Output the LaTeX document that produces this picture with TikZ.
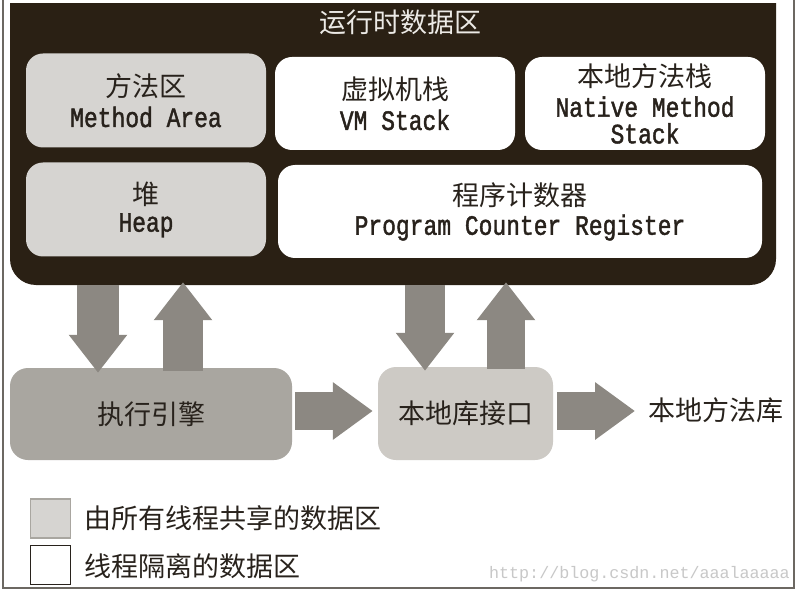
\documentclass[tikz,border=0pt]{standalone}
\usepackage{fontspec}
\setmainfont{Liberation Sans}
\newfontfamily\cjkf{Noto Sans CJK SC}
\newfontfamily\enf[FakeStretch=0.82,FakeBold=1.5]{Liberation Mono}
\newfontfamily\wmf{Liberation Mono}
\usetikzlibrary{arrows.meta,calc}
\definecolor{darkbg}{RGB}{42,32,20}
\definecolor{shared}{RGB}{214,212,209}
\definecolor{enginec}{RGB}{169,166,160}
\definecolor{ifacec}{RGB}{205,202,197}
\definecolor{arrowc}{RGB}{140,136,130}
\definecolor{framec}{RGB}{108,104,98}
\definecolor{txt}{RGB}{40,34,28}
\definecolor{wmc}{RGB}{200,200,200}
\newcommand{\ZH}[1]{{\cjkf\fontsize{27}{32}\selectfont #1}}
\newcommand{\EN}[1]{{\enf\fontsize{28}{30}\selectfont #1}}
\tikzset{
  inbox/.style={rounded corners=17pt, inner sep=0pt, align=center, text=txt,
    minimum width=240pt, minimum height=94pt},
  sharedbox/.style={inbox, fill=shared},
  privbox/.style={inbox, fill=white},
  bigv/.style={draw=arrowc, line width=40pt,
    -{Triangle[width=56pt 0 0,length=38pt 0 0]}},
  bigh/.style={draw=arrowc, line width=38pt,
    -{Triangle[width=55pt 0 0,length=40pt 0 0]}},
  legsq/.style={minimum width=40pt, minimum height=39pt, inner sep=0pt, line width=1.6pt},
  lab/.style={inner sep=0pt, text=txt}
}
\begin{document}
\begin{tikzpicture}[x=1pt,y=-1pt]
\useasboundingbox (0,0) rectangle (799,593);
\fill[white] (0,0) rectangle (799,593);
% outer frame
\draw[framec, line width=2pt] (3,-2) -- (3,588) -- (794,588) -- (794,-2);
% runtime data area
\begin{scope}
\clip (0,4) rectangle (799,593);
\node[fill=darkbg, rounded corners=26pt, minimum width=766pt, minimum height=316pt, inner sep=0pt]
  (rt) at (393,127) {};
\end{scope}
\node[inner sep=0pt, text={rgb,255:red,236;green,234;blue,230}] (title) at (400,22) {\ZH{运行时数据区}};
\node[sharedbox] (method) at (146,100.5) {\ZH{方法区}\\[7pt]\EN{Method Area}};
\node[privbox, minimum height=93pt] (vm) at (395,103.5) {\ZH{虚拟机栈}\\[7pt]\EN{VM Stack}};
\node[privbox, minimum height=93pt] (native) at (645,103.5) {\ZH{本地方法栈}\\[7pt]\EN{Native Method}\\[5pt]\EN{Stack}};
\node[sharedbox] (heap) at (146,209.5) {\ZH{堆}\\[6pt]\EN{Heap}};
\node[privbox, minimum width=484pt, minimum height=93pt] (pc) at (520,211.5) {\ZH{程序计数器}\\[6pt]\EN{Program Counter Register}};
% lower part
\node[fill=enginec, rounded corners=18pt, minimum width=282pt, minimum height=92pt, inner sep=0pt, text=txt]
  (engine) at (151,414) {\ZH{执行引擎}};
\node[fill=ifacec, rounded corners=18pt, minimum width=175pt, minimum height=93pt, inner sep=0pt, text=txt]
  (iface) at (465.5,413.5) {\ZH{本地库接口}};
\node[lab, anchor=west] (lib) at (648,410) {\ZH{本地方法库}};
% vertical arrows
\coordinate (a1) at (98,0);
\coordinate (a2) at (183,0);
\coordinate (a3) at (425,0);
\coordinate (a4) at (506,0);
\draw[bigv, line width=42pt] (a1 |- rt.south) -- ([yshift=-5pt]a1 |- engine.north);
\draw[bigv] ([yshift=-3pt]a2 |- engine.north) -- ([yshift=3pt]a2 |- rt.south);
\draw[bigv] (a3 |- rt.south) -- ([yshift=-4pt]a3 |- iface.north);
\draw[bigv, line width=38pt] ([yshift=-2pt]a4 |- iface.north) -- ([yshift=3pt]a4 |- rt.south);
% horizontal arrows
\draw[bigh] ([xshift=3pt]engine.east |- 0,411) -- ([xshift=-5pt]iface.west |- 0,411);
\draw[bigh] ([xshift=4pt]iface.east |- 0,411) -- ([xshift=-13pt]lib.west |- 0,411);
% legend
\node[legsq, fill=shared, draw=enginec] (lg1) at (50.5,518.5) {};
\node[lab, anchor=west] (lt1) at (84,518) {\ZH{由所有线程共享的数据区}};
\node[legsq, fill=white, draw=txt] (lg2) at (50.5,565) {};
\node[lab, anchor=west] (lt2) at (84,566) {\ZH{线程隔离的数据区}};
% watermark
\node[inner sep=0pt, anchor=east, text=wmc] (wm) at (790,574) {\wmf\fontsize{16.7}{18}\selectfont http://blog.csdn.net/aaalaaaaa};
\end{tikzpicture}
\end{document}
